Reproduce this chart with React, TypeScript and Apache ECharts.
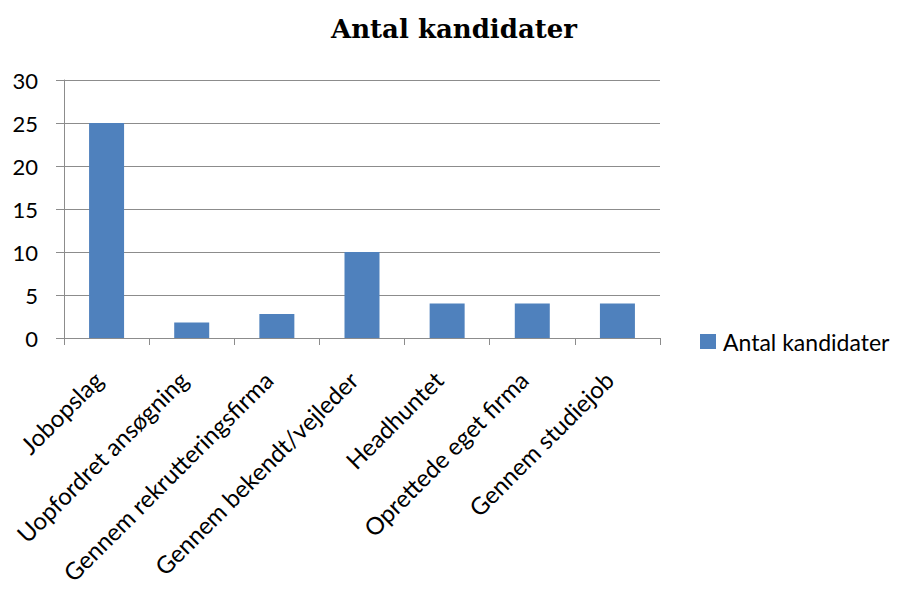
import React, { useEffect, useRef } from "react";
import * as echarts from "echarts";

const categories = [
  "Jobopslag",
  "Uopfordret ansøgning",
  "Gennem rekrutteringsfirma",
  "Gennem bekendt/vejleder",
  "Headhuntet",
  "Oprettede eget firma",
  "Gennem studiejob",
];
const values = [25, 1.8, 2.8, 10, 4, 4, 4];
const seriesName = "Antal kandidater";
const titleText = "Antal kandidater";

const FONT = "Lato, 'Open Sans', sans-serif";

export default function App() {
  const ref = useRef<HTMLDivElement>(null);
  useEffect(() => {
    if (!ref.current) return;
    const chart = echarts.init(ref.current, null, { renderer: "svg" });
    chart.setOption({
      animation: false,
      backgroundColor: "#ffffff",
      title: {
        text: titleText,
        left: 449,
        textAlign: "center",
        top: 11,
        textStyle: {
          fontFamily: "'DejaVu Serif', 'Liberation Serif', serif",
          fontWeight: "bold",
          fontSize: 26,
          color: "#000",
        },
      },
      legend: {
        data: [seriesName],
        left: 700,
        top: 330,
        padding: 0,
        itemWidth: 16,
        itemHeight: 15,
        itemGap: 7,
        icon: "rect",
        textStyle: { fontFamily: FONT, fontSize: 23, color: "#000", padding: [0, 0, 0, 2] },
      },
      grid: { left: 64, right: 239, top: 80, bottom: 252, containLabel: false },
      xAxis: {
        type: "category",
        data: categories,
        axisLine: { lineStyle: { color: "#8c8c8c" } },
        axisTick: { show: true, length: 7, alignWithLabel: false, lineStyle: { color: "#8c8c8c" } },
        axisLabel: {
          rotate: 45,
          interval: 0,
          fontFamily: FONT,
          fontSize: 24,
          color: "#000",
          margin: 46,
          verticalAlign: "bottom",
        },
      },
      yAxis: {
        type: "value",
        min: 0,
        max: 30,
        interval: 5,
        axisLine: { show: true, lineStyle: { color: "#8c8c8c" } },
        axisTick: { show: true, length: 8, lineStyle: { color: "#8c8c8c" } },
        splitLine: { lineStyle: { color: "#8c8c8c" } },
        axisLabel: { fontFamily: FONT, fontSize: 22, color: "#000", margin: 26 },
      },
      series: [
        {
          name: seriesName,
          type: "bar",
          data: values,
          barWidth: 35,
          itemStyle: { color: "#4F81BD" },
        },
      ],
    });
    return () => chart.dispose();
  }, []);
  return <div ref={ref} style={{ width: 899, height: 590, marginLeft: -8, marginTop: -8 }} />;
}
